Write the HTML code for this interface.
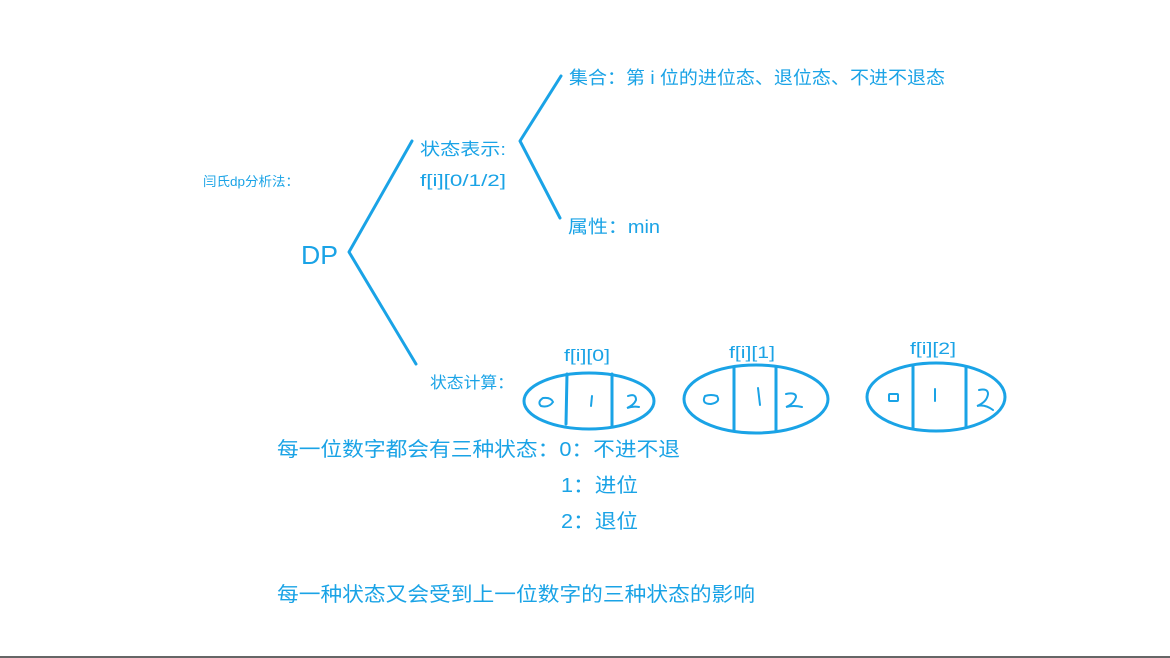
<!DOCTYPE html>
<html><head><meta charset="utf-8"><style>
html,body{margin:0;padding:0;background:#fff;}
svg{display:block}
text{font-family:"Liberation Sans","Noto Sans CJK SC",sans-serif;fill:#1aa3e6;}
</style></head><body>
<svg width="1170" height="658" viewBox="0 0 1170 658" xmlns="http://www.w3.org/2000/svg">
<rect x="0" y="0" width="1170" height="658" fill="#fff"/>
<rect x="0" y="656" width="1170" height="2" fill="#666"/>
<g stroke="#1aa3e6" stroke-width="3" fill="none" stroke-linecap="round" stroke-linejoin="round">
<polyline points="412,141 349,252 416,364"/>
<polyline points="561,76 520,141 560,218"/>
<ellipse cx="589" cy="401" rx="65" ry="28"/>
<line x1="567" y1="374" x2="566" y2="424"/><line x1="612" y1="374" x2="612" y2="426"/>
<ellipse cx="756" cy="399" rx="72" ry="34"/>
<line x1="734" y1="368" x2="734" y2="430"/><line x1="776" y1="368" x2="776" y2="430"/>
<ellipse cx="936" cy="397" rx="69" ry="34"/>
<line x1="913" y1="366" x2="913" y2="429"/><line x1="966" y1="367" x2="966" y2="427"/>
</g>
<g stroke="#1aa3e6" stroke-width="2" fill="none" stroke-linecap="round">
<path d="M543,398 q-6,4 -2,8 q8,2 12,-4 q-2,-5 -10,-4"/>
<line x1="592" y1="396" x2="591" y2="406"/>
<path d="M628,396 q8,-3 8,4 q-2,5 -9,8 q6,-2 12,-1"/>
<path d="M705,396 q-4,8 6,8 q10,-2 6,-8 q-6,-2 -12,0"/>
<line x1="758" y1="388" x2="760" y2="405"/>
<path d="M786,394 q10,-2 10,3 q-2,7 -10,10 q8,-2 16,0"/>
<rect x="889" y="394" width="9" height="7" rx="1"/>
<line x1="935" y1="389" x2="935" y2="401"/>
<path d="M979,390 q9,-2 9,4 q-1,8 -11,12 q8,-2 16,4"/>
</g>
<text x="569" y="84" font-size="18" textLength="376" lengthAdjust="spacingAndGlyphs">集合：第 i 位的进位态、退位态、不进不退态</text>
<text x="420" y="155" font-size="17" textLength="86" lengthAdjust="spacingAndGlyphs">状态表示:</text>
<text x="420" y="186" font-size="17" textLength="86" lengthAdjust="spacingAndGlyphs">f[i][0/1/2]</text>
<text x="203" y="186" font-size="13" textLength="96" lengthAdjust="spacingAndGlyphs">闫氏dp分析法：</text>
<text x="301" y="264" font-size="26" textLength="37" lengthAdjust="spacingAndGlyphs">DP</text>
<text x="568" y="233" font-size="18" textLength="92" lengthAdjust="spacingAndGlyphs">属性：min</text>
<text x="430" y="388" font-size="16" textLength="84" lengthAdjust="spacingAndGlyphs">状态计算：</text>
<text x="564" y="361" font-size="17" textLength="46" lengthAdjust="spacingAndGlyphs">f[i][0]</text>
<text x="729" y="358" font-size="17" textLength="46" lengthAdjust="spacingAndGlyphs">f[i][1]</text>
<text x="910" y="354" font-size="17" textLength="46" lengthAdjust="spacingAndGlyphs">f[i][2]</text>
<text x="277" y="456" font-size="20" textLength="403" lengthAdjust="spacingAndGlyphs">每一位数字都会有三种状态：0：不进不退</text>
<text x="561" y="492" font-size="20" textLength="77" lengthAdjust="spacingAndGlyphs">1：进位</text>
<text x="561" y="528" font-size="20" textLength="77" lengthAdjust="spacingAndGlyphs">2：退位</text>
<text x="277" y="601" font-size="20" textLength="478" lengthAdjust="spacingAndGlyphs">每一种状态又会受到上一位数字的三种状态的影响</text>
</svg>
</body></html>
